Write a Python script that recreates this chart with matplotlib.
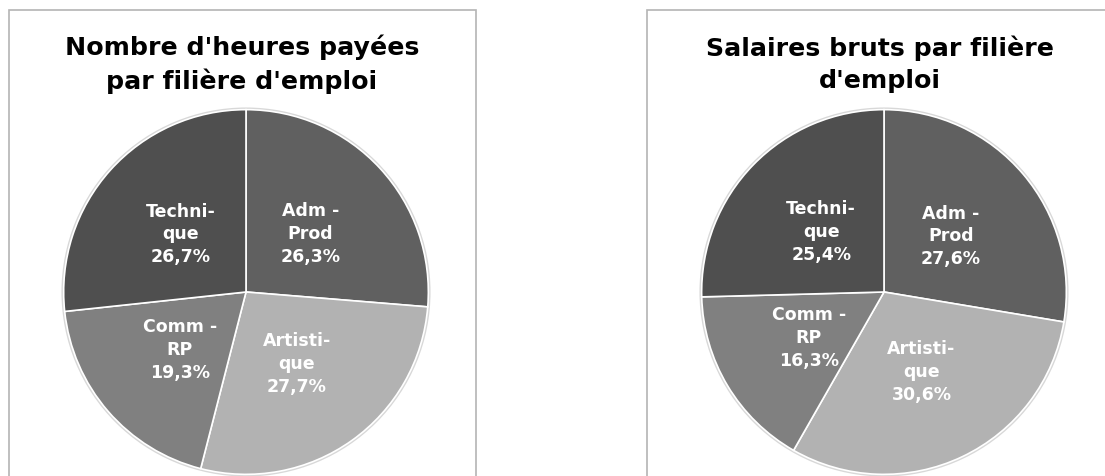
import matplotlib.pyplot as plt
from matplotlib.patches import Rectangle

# données
filieres = ['Adm -\nProd', 'Artisti-\nque', 'Comm -\nRP', 'Techni-\nque']
heures = [26.3, 27.7, 19.3, 26.7]
salaires = [27.6, 30.6, 16.3, 25.4]
titres = ["Nombre d'heures payées\npar filière d'emploi",
          "Salaires bruts par filière\nd'emploi"]
couleurs = ['#606060', '#b2b2b2', '#808080', '#4f4f4f']

plt.rcParams['font.family'] = ['DejaVu Sans']

W, H = 1105, 477
fig = plt.figure(figsize=(W / 100, H / 100), dpi=100)

# cadres gris (bas coupé)
for x0, x1 in [(9, 476), (647, 1110)]:
    fig.patches.append(Rectangle((x0 / W, -0.1), (x1 - x0) / W, (H - 11) / H + 0.1,
                                 transform=fig.transFigure, fill=False,
                                 edgecolor='#b4b4b4', linewidth=1.2))

R = 186
centres = [(246, 293), (884, 293)]
titre_x = [242, 880]

for (cx, cy), tx, valeurs, titre in zip(centres, titre_x, [heures, salaires], titres):
    ax = fig.add_axes([(cx - R) / W, (H - cy - R) / H, 2 * R / W, 2 * R / H])
    # légère ombre autour du camembert
    ax.pie([1], colors=['#d8d8d8'], radius=1.012, startangle=90,
           wedgeprops=dict(linewidth=0))
    labels = [f'{f}\n{v:.1f}%'.replace('.', ',') for f, v in zip(filieres, valeurs)]
    wedges, texts = ax.pie(valeurs, labels=labels, colors=couleurs, startangle=90,
                           counterclock=False, labeldistance=0.48, radius=1,
                           wedgeprops=dict(edgecolor='white', linewidth=1.2),
                           textprops=dict(color='white', fontsize=12.5, fontweight='bold',
                                          ha='center', va='center', linespacing=1.35))
    ax.set_xlim(-1.02, 1.02)
    ax.set_ylim(-1.02, 1.02)
    ax.set_aspect('auto')
    ax.axis('off')
    fig.text(tx / W, (H - 64) / H, titre, ha='center', va='center',
             fontsize=18.2, fontweight='bold', linespacing=1.42)

plt.savefig('out.png', dpi=100)
